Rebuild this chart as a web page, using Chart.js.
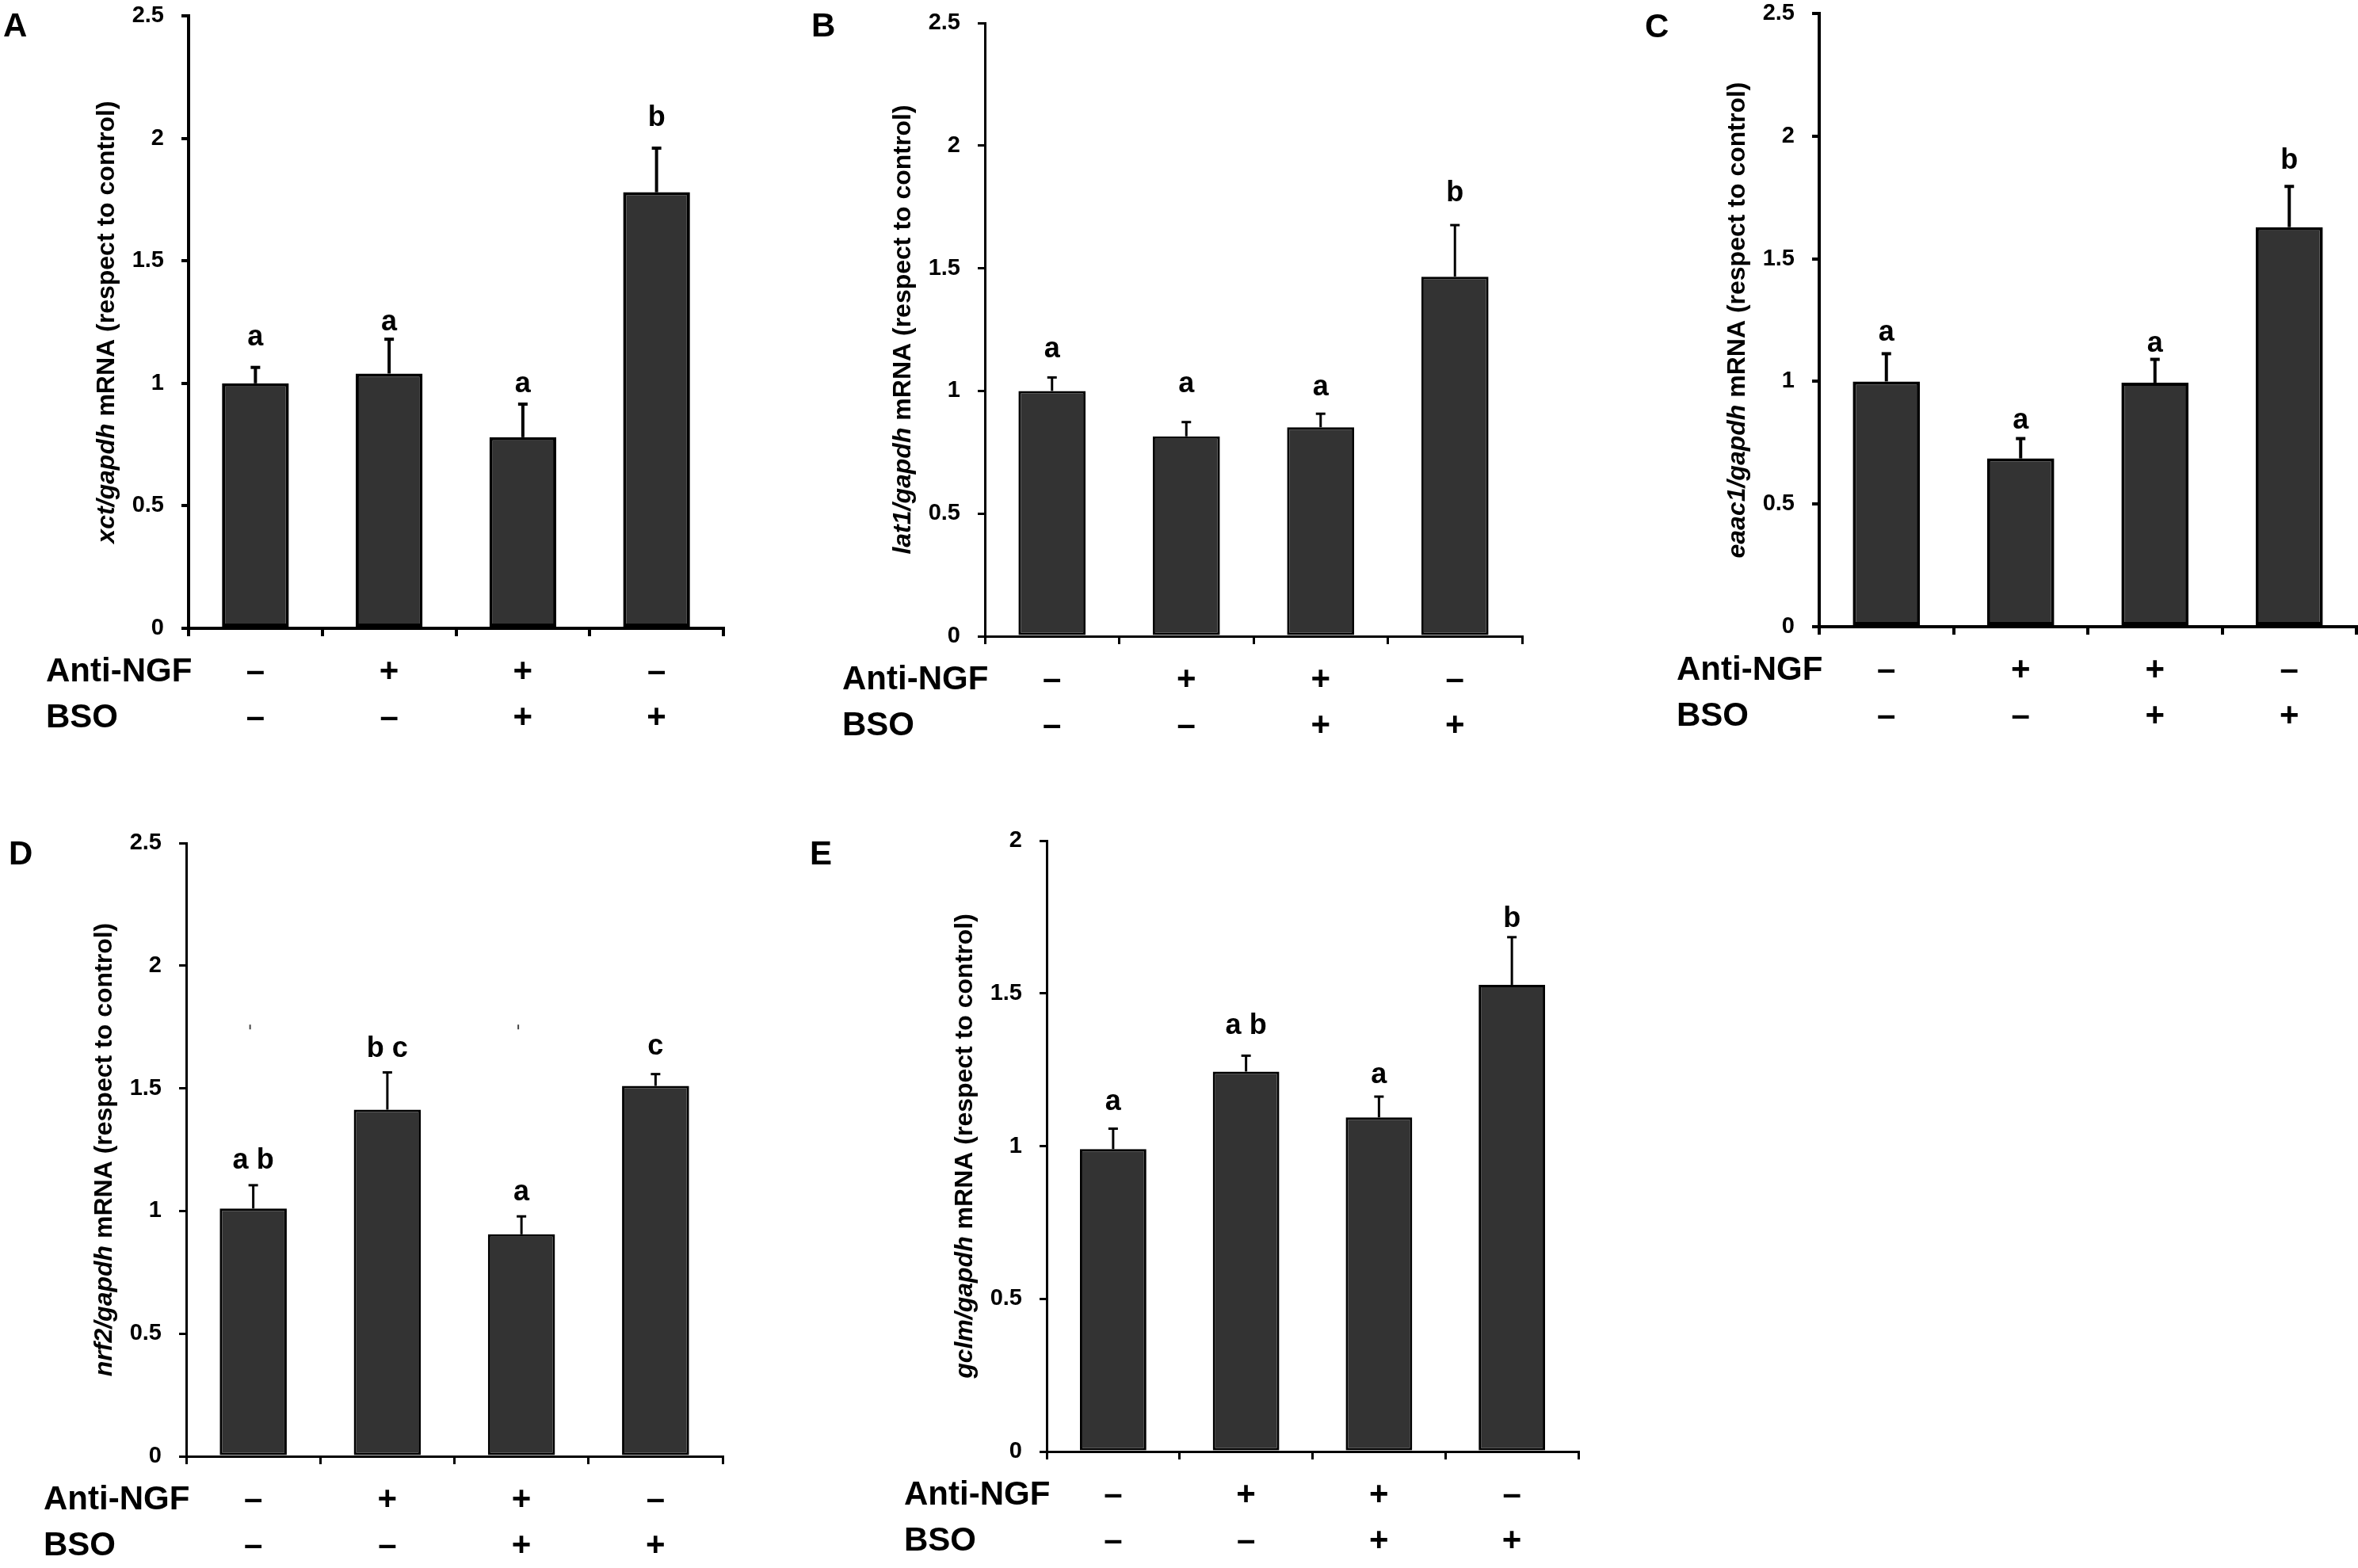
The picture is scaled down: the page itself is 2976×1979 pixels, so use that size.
<!DOCTYPE html>
<html>
<head>
<meta charset="utf-8">
<script src="https://cdn.jsdelivr.net/npm/chart.js@4.4.1/dist/chart.umd.min.js"></script>
<style>
  html, body {
    margin: 0;
    padding: 0;
    background: #fff;
    width: 2976px;
    height: 1979px;
    overflow: hidden;
    position: relative;
  }
  canvas {
    position: absolute;
  }
</style>
</head>
<body>
<canvas id="panelA"></canvas>
<canvas id="panelB"></canvas>
<canvas id="panelC"></canvas>
<canvas id="panelD"></canvas>
<canvas id="panelE"></canvas>
<script>
// treatment groups, left to right
const categories = ["Control", "Anti-NGF", "Anti-NGF + BSO", "BSO"];
const antiNgfSigns = ["\u2013", "+", "+", "\u2013"];
const bsoSigns = ["\u2013", "\u2013", "+", "+"];
const yStep = 0.5;

// A - xct
const xctMean = [1.0, 1.04, 0.78, 1.78];
const xctErr = [0.065, 0.14, 0.135, 0.18];
const xctLetters = ["a", "a", "a", "b"];
const xctLetterY = [1.155, 1.215, 0.965, 2.05];

// B - lat1
const lat1Mean = [1.0, 0.815, 0.852, 1.466];
const lat1Err = [0.055, 0.058, 0.055, 0.21];
const lat1Letters = ["a", "a", "a", "b"];
const lat1LetterY = [1.138, 0.995, 0.981, 1.773];

// C - eaac1
const eaac1Mean = [1.0, 0.686, 0.995, 1.629];
const eaac1Err = [0.113, 0.081, 0.095, 0.166];
const eaac1Letters = ["a", "a", "a", "b"];
const eaac1LetterY = [1.165, 0.807, 1.122, 1.866];

// D - nrf2
const nrf2Mean = [1.01, 1.413, 0.905, 1.51];
const nrf2Err = [0.095, 0.152, 0.073, 0.048];
const nrf2Letters = ["a b", "b c", "a", "c"];
const nrf2LetterY = [1.171, 1.629, 1.042, 1.639];
const nrf2Specks = [1.75, null, 1.75, null];

// E - gclm
const gclmMean = [0.99, 1.244, 1.094, 1.528];
const gclmErr = [0.067, 0.052, 0.068, 0.156];
const gclmLetters = ["a", "a b", "a", "b"];
const gclmLetterY = [1.118, 1.367, 1.206, 1.717];

const FONT = "'Liberation Sans', Arial, Helvetica, sans-serif";
const margin = { left: 320, top: 60, right: 30, bottom: 170 };

const panels = [
  { id: "panelA", tag: "A", gene: "xct", mean: xctMean, err: xctErr, letters: xctLetters, letterY: xctLetterY, yMax: 2.5,
    box: { left: 238, top: 20, right: 913, bottom: 793 }, lw: 4, tagPos: [-234, 26] },
  { id: "panelB", tag: "B", gene: "lat1", mean: lat1Mean, err: lat1Err, letters: lat1Letters, letterY: lat1LetterY, yMax: 2.5,
    box: { left: 1243, top: 29, right: 1921, bottom: 803 }, lw: 3, tagPos: [-219, 17] },
  { id: "panelC", tag: "C", gene: "eaac1", mean: eaac1Mean, err: eaac1Err, letters: eaac1Letters, letterY: eaac1LetterY, yMax: 2.5,
    box: { left: 2296, top: 17, right: 2974, bottom: 791 }, lw: 4, tagPos: [-220, 30] },
  { id: "panelD", tag: "D", gene: "nrf2", mean: nrf2Mean, err: nrf2Err, letters: nrf2Letters, letterY: nrf2LetterY, yMax: 2.5,
    box: { left: 235, top: 1064, right: 912, bottom: 1838 }, lw: 3, tagPos: [-224, 27], specks: nrf2Specks },
  { id: "panelE", tag: "E", gene: "gclm", mean: gclmMean, err: gclmErr, letters: gclmLetters, letterY: gclmLetterY, yMax: 2,
    box: { left: 1321, top: 1061, right: 1992, bottom: 1832 }, lw: 3, tagPos: [-299, 30] },
];

function makeDecor(p) {
  return {
    id: "decor" + p.tag,
    afterDatasetsDraw(chart) {
      const ctx = chart.ctx;
      const y = chart.scales.y;
      const meta = chart.getDatasetMeta(0);
      ctx.save();
      ctx.strokeStyle = "#000";
      ctx.fillStyle = "#000";
      ctx.lineWidth = p.lw;
      ctx.font = "bold 36px " + FONT;
      ctx.textAlign = "center";
      ctx.textBaseline = "alphabetic";
      meta.data.forEach((bar, i) => {
        const top = y.getPixelForValue(p.mean[i] + p.err[i]);
        ctx.beginPath();
        ctx.moveTo(bar.x, bar.y);
        ctx.lineTo(bar.x, top);
        ctx.stroke();
        ctx.beginPath();
        ctx.moveTo(bar.x - 6, top);
        ctx.lineTo(bar.x + 6, top);
        ctx.stroke();
        ctx.fillText(p.letters[i], bar.x, y.getPixelForValue(p.letterY[i]));
        if (p.specks && p.specks[i] != null) {
          const sy = y.getPixelForValue(p.specks[i]);
          ctx.save();
          ctx.lineWidth = 2;
          ctx.strokeStyle = "#444";
          ctx.beginPath();
          ctx.moveTo(bar.x - 4, sy - 3);
          ctx.lineTo(bar.x - 4, sy + 3);
          ctx.stroke();
          ctx.restore();
        }
      });
      ctx.restore();
    },
    afterDraw(chart) {
      const ctx = chart.ctx;
      const area = chart.chartArea;
      const x = chart.scales.x;
      ctx.save();
      ctx.fillStyle = "#000";

      // y axis title, gene name in italics
      const italic = "italic bold 32px " + FONT;
      const plain = "bold 32px " + FONT;
      const part1 = p.gene + "/gapdh";
      const part2 = " mRNA (respect to control)";
      ctx.font = italic;
      const w1 = ctx.measureText(part1).width;
      ctx.font = plain;
      const w2 = ctx.measureText(part2).width;
      ctx.translate(area.left - 103, (area.top + area.bottom) / 2);
      ctx.rotate(-Math.PI / 2);
      ctx.textBaseline = "middle";
      ctx.textAlign = "left";
      ctx.font = italic;
      ctx.fillText(part1, -(w1 + w2) / 2, 0);
      ctx.font = plain;
      ctx.fillText(part2, -(w1 + w2) / 2 + w1, 0);
      ctx.restore();

      ctx.save();
      ctx.fillStyle = "#000";
      ctx.textBaseline = "alphabetic";
      ctx.font = "bold 42px " + FONT;
      const row1 = area.bottom + 67;
      const row2 = area.bottom + 125;
      ctx.textAlign = "left";
      ctx.fillText("Anti-NGF", area.left - 180, row1);
      ctx.fillText("BSO", area.left - 180, row2);
      ctx.textAlign = "center";
      categories.forEach((c, i) => {
        const cx = x.getPixelForValue(i);
        ctx.fillText(antiNgfSigns[i], cx, row1);
        ctx.fillText(bsoSigns[i], cx, row2);
      });

      // panel letter
      ctx.textAlign = "left";
      ctx.font = "bold 42px " + FONT;
      ctx.fillText(p.tag, area.left + p.tagPos[0], area.top + p.tagPos[1]);
      ctx.restore();
    },
  };
}

function drawPanel(p) {
  const canvas = document.getElementById(p.id);
  const w = p.box.right - p.box.left + margin.left + margin.right;
  const h = p.box.bottom - p.box.top + margin.top + margin.bottom;
  canvas.width = w;
  canvas.height = h;
  canvas.style.width = w + "px";
  canvas.style.height = h + "px";
  canvas.style.left = p.box.left - margin.left + "px";
  canvas.style.top = p.box.top - margin.top + "px";

  return new Chart(canvas.getContext("2d"), {
    type: "bar",
    data: {
      labels: categories,
      datasets: [
        {
          data: p.mean,
          backgroundColor: "#333333",
          borderColor: "#000",
          borderWidth: p.lw,
          borderSkipped: false,
          barPercentage: 0.5,
          categoryPercentage: 1.0,
        },
      ],
    },
    options: {
      responsive: false,
      animation: false,
      layout: {
        padding: { left: 0, top: margin.top, right: margin.right, bottom: 0 },
      },
      plugins: {
        legend: { display: false },
        tooltip: { enabled: false },
      },
      scales: {
        x: {
          offset: true,
          grid: {
            offset: true,
            drawOnChartArea: false,
            drawTicks: true,
            tickLength: 10,
            color: "#000",
            lineWidth: p.lw,
          },
          border: { display: true, color: "#000", width: p.lw },
          ticks: { display: false },
          afterFit(scale) {
            scale.height = margin.bottom;
          },
        },
        y: {
          min: 0,
          max: p.yMax,
          grid: {
            drawOnChartArea: false,
            drawTicks: true,
            tickLength: 9,
            color: "#000",
            lineWidth: p.lw,
          },
          border: { display: true, color: "#000", width: p.lw },
          ticks: {
            stepSize: yStep,
            padding: 22,
            color: "#000",
            font: { family: FONT, size: 29, weight: "bold" },
            callback: (v) => String(v),
          },
          afterFit(scale) {
            scale.width = margin.left;
          },
        },
      },
    },
    plugins: [makeDecor(p)],
  });
}

window.addEventListener("load", () => {
  panels.forEach(drawPanel);
});
</script>
</body>
</html>
